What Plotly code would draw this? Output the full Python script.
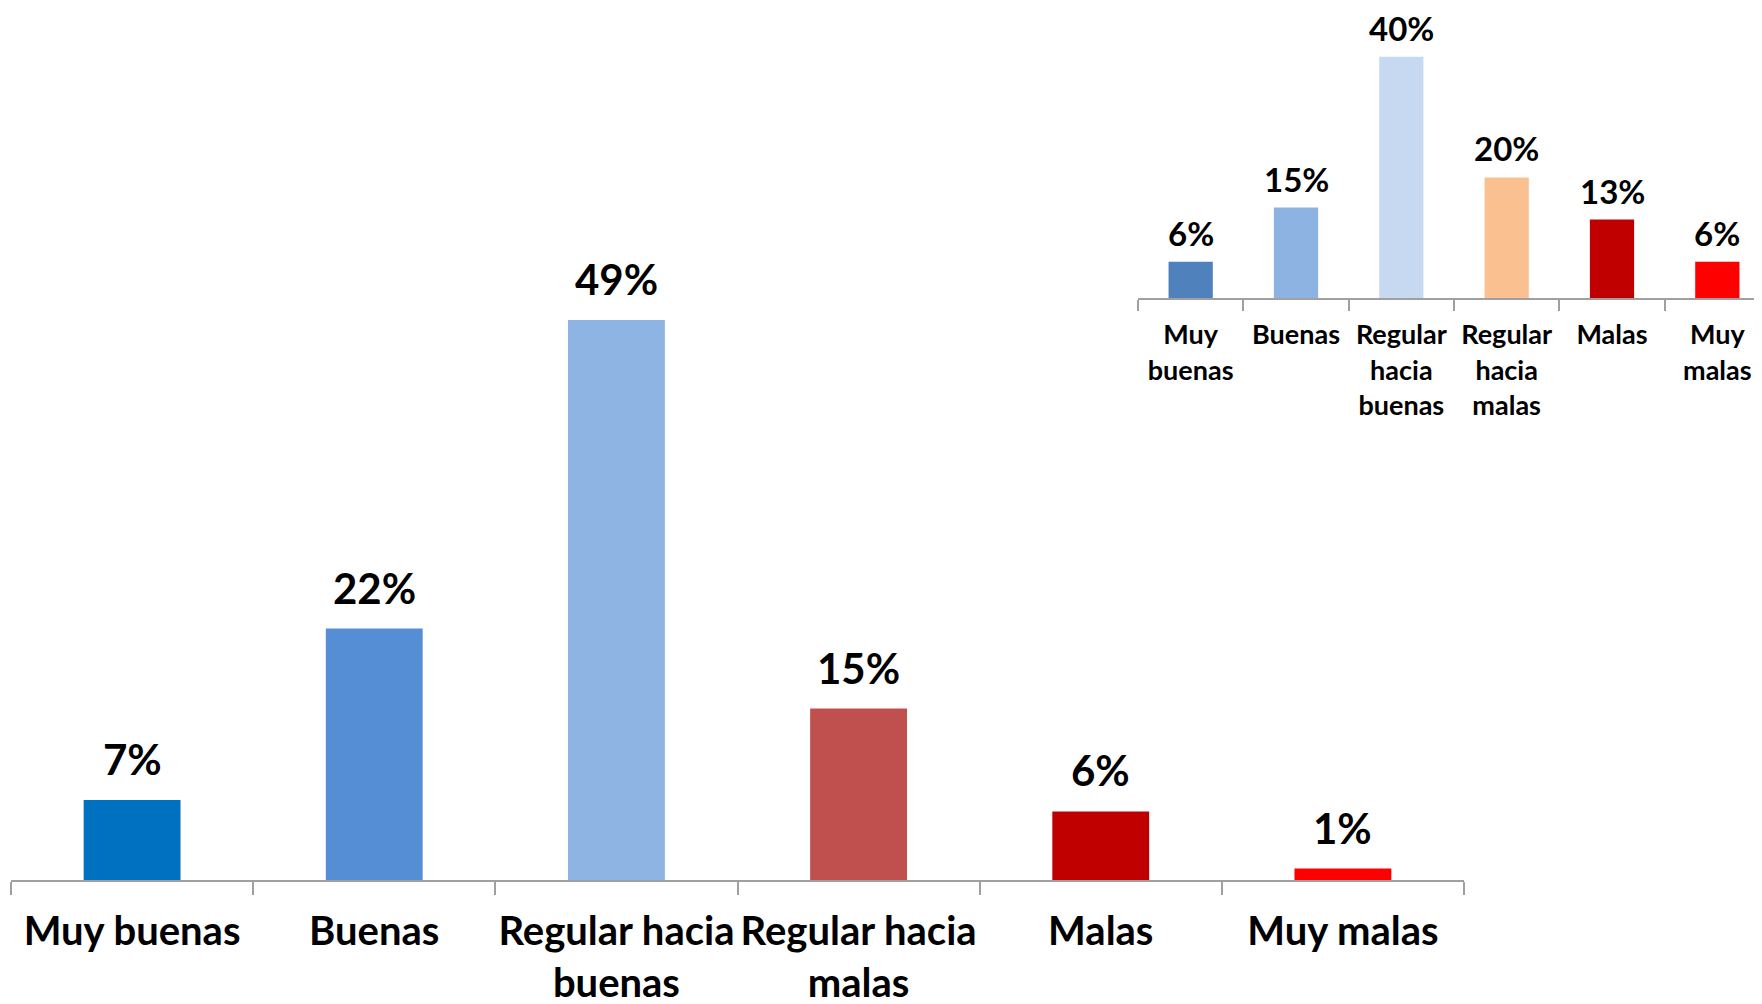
import plotly.graph_objects as go

# main chart
main_cats = ["Muy buenas", "Buenas", "Regular hacia<br>buenas", "Regular hacia<br>malas", "Malas", "Muy malas"]
main_vals = [7, 22, 49, 15, 6, 1]
main_colors = ["#0070C0", "#558ED5", "#8EB4E3", "#C0504D", "#C00000", "#FF0000"]

# inset chart
inset_cats = ["Muy<br>buenas", "Buenas", "Regular<br>hacia<br>buenas", "Regular<br>hacia<br>malas", "Malas", "Muy<br>malas"]
inset_vals = [6, 15, 40, 20, 13, 6]
inset_colors = ["#4F81BD", "#8DB3E2", "#C6D9F1", "#FAC090", "#C00000", "#FF0000"]

FONT = "Lato, Roboto, 'Open Sans', sans-serif"
W, H = 1762, 1004
OFF = 8  # page body margin

fig = go.Figure()
fig.add_trace(go.Bar(x=main_cats, y=main_vals, marker=dict(color=main_colors, line=dict(width=0)),
                     xaxis="x", yaxis="y", hoverinfo="skip"))
fig.add_trace(go.Bar(x=inset_cats, y=inset_vals, width=0.42,
                     marker=dict(color=inset_colors, line=dict(width=0)),
                     xaxis="x2", yaxis="y2", hoverinfo="skip"))

for c, v in zip(main_cats, main_vals):
    fig.add_annotation(x=c, y=v, xref="x", yref="y", text=f"{v}%", showarrow=False,
                       yanchor="bottom", yshift=14,
                       font=dict(family=FONT, size=42, color="#000000", weight="bold"))
for c, v in zip(inset_cats, inset_vals):
    fig.add_annotation(x=c, y=v, xref="x2", yref="y2", text=f"{v}%", showarrow=False,
                       yanchor="bottom", yshift=8, borderpad=0,
                       font=dict(family=FONT, size=33, color="#000000", weight="bold"))

axis_common = dict(showgrid=False, zeroline=False, showline=True, linecolor="#A0A0A0", linewidth=2,
                   ticks="outside", tickson="boundaries", tickcolor="#A0A0A0", tickwidth=2,
                   type="category", fixedrange=True, automargin=False, tickangle=0)

main_axis_y = 880 - OFF
inset_axis_y = 298 - OFF

fig.update_layout(
    width=W, height=H,
    margin=dict(l=0, r=0, t=0, b=0, autoexpand=False),
    paper_bgcolor="white", plot_bgcolor="rgba(0,0,0,0)",
    showlegend=False,
    bargap=0.6,
    xaxis=dict(**axis_common, domain=[(11 - OFF) / W, (1464 - OFF) / W], range=[-0.5, 5.5], ticklen=13,
               ticklabelstandoff=15,
               tickfont=dict(family=FONT, size=40, color="#000000", weight="bold"), anchor="y"),
    yaxis=dict(domain=[(H - main_axis_y) / H, 1], range=[0, main_axis_y / 11.43], visible=False,
               fixedrange=True, automargin=False),
    xaxis2=dict(**axis_common, domain=[(1138 - OFF) / W, 1], range=[-0.5, 5.5], ticklen=11,
                ticklabelstandoff=12,
                tickfont=dict(family=FONT, size=27, color="#000000", weight="bold"), anchor="y2"),
    yaxis2=dict(domain=[(H - inset_axis_y) / H, 1], range=[0, inset_axis_y / 6.03], visible=False,
                fixedrange=True, automargin=False),
)

fig.write_html("out.html")
